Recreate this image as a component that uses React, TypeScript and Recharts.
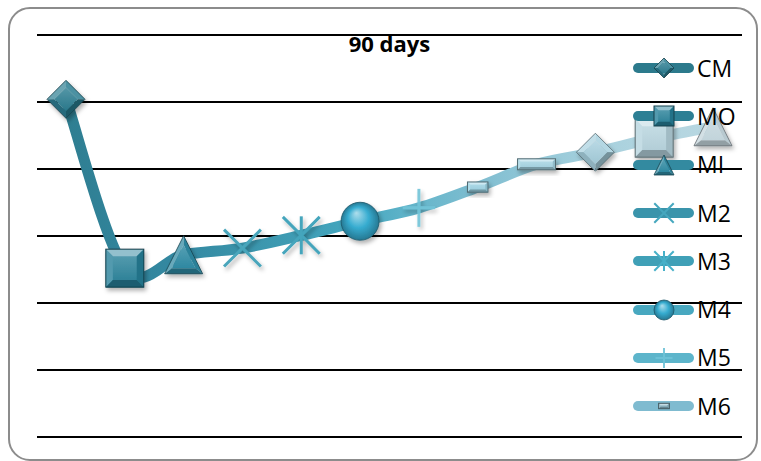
import React from 'react';
import { LineChart, Line, XAxis, YAxis, CartesianGrid, Legend } from 'recharts';

// ---- data ----
const categories = ['CM', 'MO', 'MI', 'M2', 'M3', 'M4', 'M5', 'M6', 'M7', 'M8', 'M9', 'M10'];
const values = [50.4, 25.2, 27.2, 28.2, 30.1, 32.2, 34.2, 37.3, 40.7, 42.5, 44.6, 46.3];
const yTicks = [0, 10, 20, 30, 40, 50, 60];
const legendNames = categories.slice(0, 8);
const title = '90 days';

// ---- styles ----
const MARKERS = ['diamond', 'square', 'triangle', 'x', 'star', 'circle', 'plus', 'dot', 'dash', 'diamond', 'square', 'triangle'];
const POINT_COLORS = ['#2b7d91', '#27819a', '#2d88a1', '#48a5bb', '#44a5bc', '#36acd0', '#72c4d8', '#9bd3e4', '#a4d5e4', '#a7d0de', '#b7d5df', '#c2d4db'];
const LINE_STOPS = ['#2f7e91', '#31849b', '#3489a2', '#3a94ab', '#3f9db5', '#46a8c0', '#66b6cb', '#7fbdd0', '#93c8d8', '#a6d0dd', '#b2d5e0', '#b8d7e1'];
const LEGEND_LINE = ['#2c7a8c', '#2d7f94', '#338aa0', '#3a94ab', '#40a0b7', '#48a8c0', '#5db5cb', '#7fbbd0'];
const LEGEND_MARK = ['#2b7d91', '#27819a', '#2e88a0', '#45a7be', '#47b0c8', '#36acd0', '#6ec3d8', '#8ab7c6'];

const data = categories.map((name, i) => ({ name, value: values[i] }));

function mix(hex: string, to: 'w' | 'b', t: number) {
  const a = parseInt(hex.slice(1), 16);
  const r = (a >> 16) & 255, g = (a >> 8) & 255, b = a & 255;
  const T = to === 'w' ? 255 : 0;
  const f = (c: number) => Math.round(c + (T - c) * t);
  return `rgb(${f(r)},${f(g)},${f(b)})`;
}

// Excel-like smoothing (Catmull-Rom through the points)
const excelSmooth = (context: any) => {
  let pts: number[][] = [];
  return {
    areaStart() {},
    areaEnd() {},
    lineStart() { pts = []; },
    point(x: number, y: number) { pts.push([+x, +y]); },
    lineEnd() {
      const n = pts.length;
      if (!n) return;
      context.moveTo(pts[0][0], pts[0][1]);
      for (let i = 0; i < n - 1; i++) {
        const p0 = pts[i - 1] || pts[i];
        const p1 = pts[i];
        const p2 = pts[i + 1];
        const p3 = pts[i + 2] || pts[i + 1];
        context.bezierCurveTo(
          p1[0] + (p2[0] - p0[0]) / 6, p1[1] + (p2[1] - p0[1]) / 6,
          p2[0] - (p3[0] - p1[0]) / 6, p2[1] - (p3[1] - p1[1]) / 6,
          p2[0], p2[1]
        );
      }
    },
  };
};

function BevelRect({ cx, cy, w, h, color, id }: any) {
  const b = Math.min(w, h) * 0.16 + 1;
  const x0 = cx - w / 2, x1 = cx + w / 2, y0 = cy - h / 2, y1 = cy + h / 2;
  return (
    <g>
      <defs>
        <linearGradient id={id} x1="0" y1="0" x2="0" y2="1">
          <stop offset="0" stopColor={mix(color, 'w', 0.25)} />
          <stop offset="1" stopColor={mix(color, 'b', 0.05)} />
        </linearGradient>
      </defs>
      <rect x={x0} y={y0} width={w} height={h} fill={`url(#${id})`} />
      <polygon points={`${x0},${y0} ${x1},${y0} ${x1 - b},${y0 + b} ${x0 + b},${y0 + b}`} fill={mix(color, 'w', 0.5)} />
      <polygon points={`${x0},${y0} ${x0 + b},${y0 + b} ${x0 + b},${y1 - b} ${x0},${y1}`} fill={mix(color, 'w', 0.2)} />
      <polygon points={`${x1},${y0} ${x1},${y1} ${x1 - b},${y1 - b} ${x1 - b},${y0 + b}`} fill={mix(color, 'b', 0.12)} />
      <polygon points={`${x0},${y1} ${x0 + b},${y1 - b} ${x1 - b},${y1 - b} ${x1},${y1}`} fill={mix(color, 'b', 0.28)} />
      <rect x={x0} y={y0} width={w} height={h} fill="none" stroke={mix(color, 'b', 0.5)} strokeWidth={1} />
    </g>
  );
}

function Marker({ type, cx, cy, s, color, id, shadow }: any) {
  const h = s / 2;
  const filt = shadow ? 'url(#mkShadow)' : undefined;
  const edge = mix(color, 'b', 0.5);
  if (type === 'square') {
    return <g filter={filt}><BevelRect cx={cx} cy={cy} w={s} h={s} color={color} id={id} /></g>;
  }
  if (type === 'dot') {
    return <g filter={filt}><BevelRect cx={cx} cy={cy} w={s * 0.54} h={s * 0.27} color={color} id={id} /></g>;
  }
  if (type === 'dash') {
    return <g filter={filt}><BevelRect cx={cx} cy={cy} w={s} h={s * 0.29} color={color} id={id} /></g>;
  }
  if (type === 'diamond') {
    const hi = h * 0.62;
    const T = `${cx},${cy - h}`, R = `${cx + h},${cy}`, B = `${cx},${cy + h}`, L = `${cx - h},${cy}`;
    const Ti = `${cx},${cy - hi}`, Ri = `${cx + hi},${cy}`, Bi = `${cx},${cy + hi}`, Li = `${cx - hi},${cy}`;
    return (
      <g filter={filt}>
        <defs>
          <linearGradient id={id} x1="0" y1="0" x2="0" y2="1">
            <stop offset="0" stopColor={mix(color, 'w', 0.2)} />
            <stop offset="1" stopColor={mix(color, 'b', 0.05)} />
          </linearGradient>
        </defs>
        <polygon points={`${T} ${Ti} ${Li} ${L}`} fill={mix(color, 'w', 0.3)} />
        <polygon points={`${T} ${R} ${Ri} ${Ti}`} fill={mix(color, 'w', 0.15)} />
        <polygon points={`${R} ${B} ${Bi} ${Ri}`} fill={mix(color, 'b', 0.3)} />
        <polygon points={`${B} ${L} ${Li} ${Bi}`} fill={mix(color, 'b', 0.15)} />
        <polygon points={`${Ti} ${Ri} ${Bi} ${Li}`} fill={`url(#${id})`} />
        <polygon points={`${T} ${R} ${B} ${L}`} fill="none" stroke={edge} strokeWidth={0.8} />
      </g>
    );
  }
  if (type === 'triangle') {
    const ax = cx, ay = cy - h, lx = cx - h, ly = cy + h, rx = cx + h, ry = cy + h;
    const ic = [cx, cy + h * 0.24];
    const k = 0.62;
    const sh = (x: number, y: number) => `${ic[0] + (x - ic[0]) * k},${ic[1] + (y - ic[1]) * k}`;
    const A = `${ax},${ay}`, BL = `${lx},${ly}`, BR = `${rx},${ry}`;
    const Ai = sh(ax, ay), BLi = sh(lx, ly), BRi = sh(rx, ry);
    return (
      <g filter={filt}>
        <defs>
          <linearGradient id={id} x1="0" y1="0" x2="0" y2="1">
            <stop offset="0" stopColor={mix(color, 'w', 0.2)} />
            <stop offset="1" stopColor={color} />
          </linearGradient>
        </defs>
        <polygon points={`${A} ${Ai} ${BLi} ${BL}`} fill={mix(color, 'w', 0.28)} />
        <polygon points={`${A} ${BR} ${BRi} ${Ai}`} fill={mix(color, 'b', 0.05)} />
        <polygon points={`${BL} ${BLi} ${BRi} ${BR}`} fill={mix(color, 'b', 0.25)} />
        <polygon points={`${Ai} ${BRi} ${BLi}`} fill={`url(#${id})`} />
        <polygon points={`${A} ${BR} ${BL}`} fill="none" stroke={edge} strokeWidth={0.8} />
      </g>
    );
  }
  if (type === 'circle') {
    return (
      <g filter={filt}>
        <defs>
          <radialGradient id={id} cx="50%" cy="50%" r="50%" fx="40%" fy="28%">
            <stop offset="0" stopColor={mix(color, 'w', 0.6)} />
            <stop offset="0.55" stopColor={color} />
            <stop offset="1" stopColor={mix(color, 'b', 0.3)} />
          </radialGradient>
        </defs>
        <circle cx={cx} cy={cy} r={h} fill={`url(#${id})`} stroke={edge} strokeWidth={0.8} />
      </g>
    );
  }
  const sw = s > 25 ? 3 : 2;
  if (type === 'x' || type === 'star') {
    const d = h * 0.97;
    return (
      <g filter={filt} stroke={color} strokeWidth={sw}>
        <line x1={cx - d} y1={cy - d} x2={cx + d} y2={cy + d} />
        <line x1={cx - d} y1={cy + d} x2={cx + d} y2={cy - d} />
        {type === 'star' && <line x1={cx} y1={cy - h} x2={cx} y2={cy + h} />}
      </g>
    );
  }
  if (type === 'plus') {
    return (
      <g filter={filt} stroke={color} strokeWidth={sw} opacity={0.9}>
        <line x1={cx} y1={cy - h} x2={cx} y2={cy + h} />
        <line x1={cx - h * 0.85} y1={cy} x2={cx + h * 0.85} y2={cy} />
      </g>
    );
  }
  return null;
}

const renderDot = (props: any) => {
  const { cx, cy, index } = props;
  if (cx == null || cy == null) return <g key={`d${index}`} />;
  return (
    <Marker key={`d${index}`} type={MARKERS[index]} cx={cx} cy={cy} s={38} color={POINT_COLORS[index]} id={`pm${index}`} shadow />
  );
};

const LegendContent = () => (
  <div style={{ fontFamily: '"Open Sans", sans-serif', fontSize: 23, color: '#000' }}>
    {legendNames.map((n, i) => (
      <div key={n} style={{ height: 48.3, display: 'flex', alignItems: 'center' }}>
        <svg width={72} height={26} style={{ display: 'block', overflow: 'visible' }}>
          <line x1={13} y1={13} x2={64} y2={13} stroke={LEGEND_LINE[i]} strokeWidth={10} strokeLinecap="round" />
          <Marker type={MARKERS[i]} cx={39} cy={13} s={20} color={LEGEND_MARK[i]} id={`lm${i}`} />
        </svg>
        <span style={{ lineHeight: 1, whiteSpace: 'nowrap' }}>{n}</span>
      </div>
    ))}
  </div>
);

export default function App() {
  return (
    <div style={{ position: 'absolute', left: 0, top: 0, width: 761, height: 461, background: '#fff' }}>
      <div
        style={{
          position: 'absolute', left: 8, top: 7, width: 750, height: 454,
          border: '2px solid #8c8c8c', borderRadius: 22, boxSizing: 'border-box', pointerEvents: 'none',
        }}
      />
      <LineChart width={761} height={461} data={data} margin={{ top: 35, right: 19, bottom: 24, left: 37 }}>
        <defs>
          <linearGradient id="lineGrad" x1="0" y1="0" x2="1" y2="0">
            {LINE_STOPS.map((c, i) => (
              <stop key={i} offset={i / (LINE_STOPS.length - 1)} stopColor={c} />
            ))}
          </linearGradient>
          <filter id="mkShadow" x="-50%" y="-50%" width="200%" height="200%">
            <feDropShadow dx="2" dy="3" stdDeviation="2" floodColor="#000" floodOpacity="0.3" />
          </filter>
        </defs>
        <CartesianGrid vertical={false} stroke="#000" strokeWidth={2} />
        <XAxis dataKey="name" hide padding={{ left: 29, right: 29 }} />
        <YAxis hide domain={[0, 60]} ticks={yTicks} />
        <text x={389.5} y={52} textAnchor="middle" fontFamily='"Open Sans", sans-serif' fontWeight={700} fontSize={22} fill="#000">
          {title}
        </text>
        <Line
          dataKey="value"
          type={excelSmooth as any}
          stroke="url(#lineGrad)"
          strokeWidth={11}
          dot={renderDot}
          activeDot={false}
          isAnimationActive={false}
        />
        <Legend
          layout="vertical"
          align="center"
          verticalAlign="middle"
          content={() => <LegendContent />}
          wrapperStyle={{ left: 625, top: 44, width: 136 }}
        />
      </LineChart>
    </div>
  );
}
